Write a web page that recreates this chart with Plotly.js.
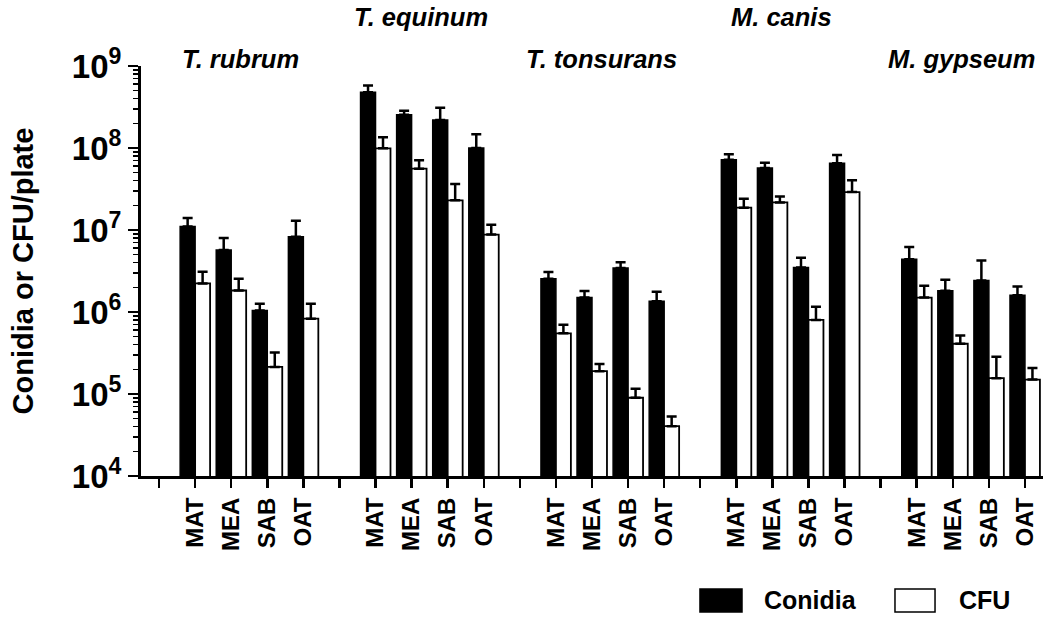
<!DOCTYPE html>
<html>
<head>
<meta charset="utf-8">
<script src="https://cdn.plot.ly/plotly-3.0.1.min.js"></script>
<style>html,body{margin:0;padding:0;background:#fff;}#chart{width:1050px;height:620px;}</style>
</head>
<body>
<div id="chart"></div>
<script>
// ---- data ----
var species = ['T. rubrum', 'T. equinum', 'T. tonsurans', 'M. canis', 'M. gypseum'];
var media = ['MAT', 'MEA', 'SAB', 'OAT'];
var seriesNames = ['Conidia', 'CFU'];

// mean values, species x media (order: MAT, MEA, SAB, OAT)
var conidia = [
  [1.10e7, 5.7e6, 1.04e6, 8.3e6],
  [4.8e8, 2.55e8, 2.2e8, 1.0e8],
  [2.55e6, 1.50e6, 3.45e6, 1.35e6],
  [7.2e7, 5.7e7, 3.5e6, 6.5e7],
  [4.4e6, 1.82e6, 2.43e6, 1.6e6]
];
var conidiaErrTop = [
  [1.40e7, 8.0e6, 1.26e6, 1.30e7],
  [5.8e8, 2.85e8, 3.1e8, 1.47e8],
  [3.07e6, 1.80e6, 4.03e6, 1.77e6],
  [8.4e7, 6.6e7, 4.6e6, 8.2e7],
  [6.2e6, 2.47e6, 4.26e6, 2.05e6]
];
var cfu = [
  [2.23e6, 1.83e6, 2.14e5, 8.3e5],
  [9.9e7, 5.6e7, 2.3e7, 8.8e6],
  [5.5e5, 1.90e5, 9.0e4, 4.05e4],
  [1.87e7, 2.17e7, 8.0e5, 2.9e7],
  [1.50e6, 4.1e5, 1.56e5, 1.50e5]
];
var cfuErrTop = [
  [3.1e6, 2.54e6, 3.2e5, 1.26e6],
  [1.35e8, 7.1e7, 3.65e7, 1.16e7],
  [7.0e5, 2.33e5, 1.16e5, 5.3e4],
  [2.41e7, 2.57e7, 1.16e6, 4.04e7],
  [2.09e6, 5.16e5, 2.84e5, 2.08e5]
];
var yTickExp = [4, 5, 6, 7, 8, 9];

// ---- build traces ----
var slotsPerGroup = media.length + 1; // one empty slot between species groups
var xs = [], xLabels = [], conY = [], conE = [], cfuY = [], cfuE = [], zeros = [];
species.forEach(function (s, g) {
  media.forEach(function (m, k) {
    xs.push(g * slotsPerGroup + k + 1);
    xLabels.push(m);
    conY.push(conidia[g][k]);
    conE.push(conidiaErrTop[g][k] - conidia[g][k]);
    cfuY.push(cfu[g][k]);
    cfuE.push(cfuErrTop[g][k] - cfu[g][k]);
    zeros.push(0);
  });
});
var nSlots = species.length * slotsPerGroup;

var errStyle = {type: 'data', symmetric: false, color: '#000', thickness: 2.5, width: 5};

var traces = [
  {
    type: 'bar', name: seriesNames[0], x: xs, y: conY,
    marker: {color: '#000', line: {color: '#000', width: 1.5}},
    error_y: Object.assign({array: conE, arrayminus: zeros}, errStyle),
    showlegend: false
  },
  {
    type: 'bar', name: seriesNames[1], x: xs, y: cfuY,
    marker: {color: '#fff', line: {color: '#000', width: 1.8}},
    error_y: Object.assign({array: cfuE, arrayminus: zeros}, errStyle),
    showlegend: false
  }
];

var FONT = '"Liberation Sans", Arial, Helvetica, sans-serif';

var annotations = species.map(function (s, g) {
  return {
    text: '<b><i>' + s + '</i></b>',
    x: g * slotsPerGroup + (media.length + 1) / 2,
    xref: 'x', yref: 'paper',
    y: (g % 2 === 0) ? 1.017 : 1.12,
    xshift: -9,
    showarrow: false, xanchor: 'center', yanchor: 'middle',
    font: {family: FONT, size: 25.5, color: '#000'}
  };
});

// legend (drawn as layout decoration, bottom right)
var legendItems = [
  {x0: 0.6197, x1: 0.6663, tx: 0.6885, fill: '#000'},
  {x0: 0.8359, x1: 0.8803, tx: 0.9047, fill: '#fff'}
];
var shapes = [];
legendItems.forEach(function (it, i) {
  shapes.push({
    type: 'rect', xref: 'paper', yref: 'paper',
    x0: it.x0, x1: it.x1, y0: -0.3317, y1: -0.2756,
    fillcolor: it.fill, line: {color: '#000', width: 1.5}
  });
  annotations.push({
    text: '<b>' + seriesNames[i] + '</b>',
    xref: 'paper', yref: 'paper', x: it.tx, y: -0.3036,
    xanchor: 'left', yanchor: 'middle', showarrow: false,
    font: {family: FONT, size: 25, color: '#000'}
  });
});

var layout = {
  width: 1050, height: 620,
  margin: {l: 141, r: 7, t: 66, b: 144},
  paper_bgcolor: '#fff', plot_bgcolor: '#fff',
  font: {family: FONT, color: '#000'},
  barmode: 'group', bargap: 0.17, bargroupgap: 0,
  showlegend: false,
  xaxis: {
    range: [-0.5, nSlots - 0.5],
    tickmode: 'array', tickvals: xs, ticktext: xLabels,
    tickangle: -90,
    ticks: 'outside', ticklen: 9, tickwidth: 2.5, tickcolor: '#000',
    minor: {tickmode: 'linear', tick0: 0, dtick: 1, ticks: 'outside', ticklen: 9, tickwidth: 2.5, tickcolor: '#000', showgrid: false},
    showline: true, linewidth: 3, linecolor: '#000',
    showgrid: false, zeroline: false,
    tickfont: {family: FONT, size: 24, color: '#000', weight: 'bold'}
  },
  yaxis: {
    type: 'log', range: [4, 9],
    tickmode: 'array',
    tickvals: yTickExp.map(function (e) { return Math.pow(10, e); }),
    ticktext: yTickExp.map(function (e) { return '<b>10<sup>' + e + '</sup></b>'; }),
    ticks: 'outside', ticklen: 10, tickwidth: 2.5, tickcolor: '#000',
    minor: {ticks: 'outside', ticklen: 5, tickwidth: 1.5, tickcolor: '#000', dtick: 'D1'},
    showline: true, linewidth: 3, linecolor: '#000',
    showgrid: false, zeroline: false,
    tickfont: {family: FONT, size: 33, color: '#000'},
    title: {text: '<b>Conidia or CFU/plate</b>', standoff: 30,
            font: {family: FONT, size: 29, color: '#000'}}
  },
  shapes: shapes,
  annotations: annotations
};

Plotly.newPlot('chart', traces, layout, {staticPlot: true, displayModeBar: false});
</script>
</body>
</html>
